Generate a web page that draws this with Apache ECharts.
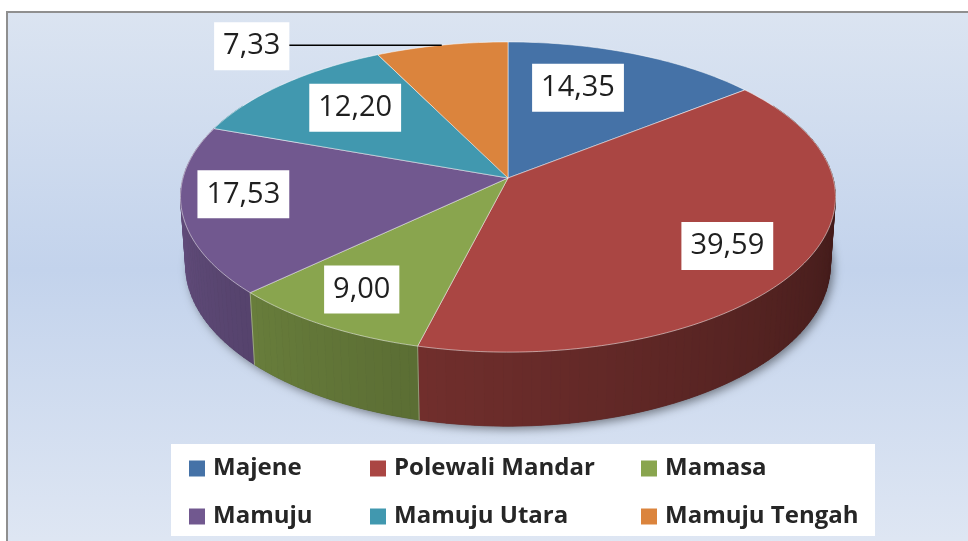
<!DOCTYPE html>
<html>
<head>
<meta charset="utf-8">
<script src="https://cdn.jsdelivr.net/npm/echarts@6/dist/echarts.min.js"></script>
<style>
html,body{margin:0;padding:0;background:#ffffff;}
#c{width:968px;height:541px;}
</style>
</head>
<body>
<div id="c"></div>
<script>
// ---- data ----
const categories = ['Majene', 'Polewali Mandar', 'Mamasa', 'Mamuju', 'Mamuju Utara', 'Mamuju Tengah'];
const values = [14.35, 39.59, 9.00, 17.53, 12.20, 7.33];

// ---- styles ----
const colors = ['#4572A7', '#AA4643', '#89A54E', '#71588F', '#4198AF', '#DB843D'];
const view = { cx: 508, cy: 178, S: 325, sinA: 0.47, K: 0.139, H: 0.24 };
view.cosA = Math.sqrt(1 - view.sinA * view.sinA);
const labelRadius = 0.7;
const labelOffsets = [[-22, -1], [19, 7], [-22, 12], [-38, -6], [8, -3], [0, 0]];
const outsideLabel = { 5: -190 };
const labelFont = { fontFamily: 'Open Sans', fontSize: 29 };

function proj(deg, r, z) {
  const t = deg * Math.PI / 180;
  const X = r * Math.sin(t), Y = r * Math.cos(t), Z = z * view.H;
  const yc = Y * view.sinA + Z * view.cosA;
  const zc = 1 + view.K * (Y * view.cosA - Z * view.sinA);
  return [view.cx + view.S * X / zc, view.cy - view.S * yc / zc];
}
function shade(hex, f) {
  const n = parseInt(hex.slice(1), 16);
  const r = Math.round(((n >> 16) & 255) * f), g = Math.round(((n >> 8) & 255) * f), b = Math.round((n & 255) * f);
  return 'rgb(' + r + ',' + g + ',' + b + ')';
}
function wallFactor(deg) {
  return Math.max(0.36, Math.min(0.88, 0.42 + (deg - 110) * 0.0029));
}
function fmt(v) { return v.toFixed(2).replace('.', ','); }

function renderItem(params, api) {
  const i = params.seriesIndex;
  const v = api.value(0);
  const total = values.reduce((a, b) => a + b, 0);
  let start = 0;
  for (let k = 0; k < i; k++) start += values[k];
  const a0 = start / total * 360, a1 = (start + v) / total * 360;
  const children = [];
  if (i === 0) {
    const sh = [];
    for (let t = 0; t <= 360; t += 3) sh.push(proj(t, 1, -1));
    children.push({ type: 'polygon', shape: { points: sh }, z2: -100,
      style: { fill: '#3b3b45', shadowBlur: 10, shadowColor: 'rgba(0,0,0,0.45)', shadowOffsetX: 3, shadowOffsetY: 3 } });
  }
  // outer wall
  const w0 = Math.max(a0, 60), w1 = Math.min(a1, 300);
  if (w1 > w0) {
    const n = Math.ceil((w1 - w0) / 1.5);
    for (let k = 0; k < n; k++) {
      const t0 = w0 + (w1 - w0) * k / n, t1 = w0 + (w1 - w0) * (k + 1) / n;
      const tm = (t0 + t1) / 2;
      const c = shade(colors[i], wallFactor(tm));
      children.push({ type: 'polygon', z2: 200 + Math.round(-Math.cos(tm * Math.PI / 180) * 100),
        shape: { points: [proj(t0, 1, 0), proj(t1, 1, 0), proj(t1, 1, -1), proj(t0, 1, -1)] },
        style: { fill: c, stroke: c, lineWidth: 0.8 } });
    }
    if (a0 >= 90 && a0 <= 270) {
      children.push({ type: 'line', z2: 400,
        shape: { x1: proj(a0, 1, 0)[0], y1: proj(a0, 1, 0)[1], x2: proj(a0, 1, -1)[0], y2: proj(a0, 1, -1)[1] },
        style: { stroke: 'rgba(255,255,255,0.35)', lineWidth: 1 } });
    }
  }
  // top face
  const pts = [proj(0, 0, 0)];
  const m = Math.max(2, Math.ceil(a1 - a0));
  for (let k = 0; k <= m; k++) pts.push(proj(a0 + (a1 - a0) * k / m, 1, 0));
  children.push({ type: 'polygon', z2: 1000, shape: { points: pts },
    style: { fill: colors[i], stroke: 'rgba(255,255,255,0.5)', lineWidth: 1 } });
  // label
  const mid = (a0 + a1) / 2;
  let lx, ly;
  if (outsideLabel[i] !== undefined) {
    const rim = proj(mid, 1, 0);
    lx = rim[0] + outsideLabel[i]; ly = rim[1] + 1;
    children.push({ type: 'line', z2: 1500,
      shape: { x1: rim[0], y1: rim[1], x2: lx, y2: rim[1] },
      style: { stroke: '#000', lineWidth: 1.5 } });
  } else {
    const p = proj(mid, labelRadius, 0);
    lx = p[0] + labelOffsets[i][0]; ly = p[1] + labelOffsets[i][1];
  }
  children.push({ type: 'text', z2: 2000,
    style: { text: fmt(v), x: lx, y: ly, align: 'center', verticalAlign: 'middle',
      fill: '#1f1f1f', fontFamily: labelFont.fontFamily, fontSize: labelFont.fontSize,
      backgroundColor: '#ffffff', padding: [10, 9, 9, 9] } });
  return { type: 'group', children: children };
}

const legendLefts = [189, 370, 641];
const chart = echarts.init(document.getElementById('c'));
chart.setOption({
  animation: false,
  graphic: [
    { type: 'rect', z: -10, silent: true, shape: { x: 7, y: 12, width: 980, height: 560 },
      style: { fill: new echarts.graphic.LinearGradient(0, 0, 0, 1, [
        { offset: 0, color: '#DBE4F1' }, { offset: 0.46, color: '#C3D3EC' },
        { offset: 0.94, color: '#DEE6F3' }, { offset: 1, color: '#E0E7F4' }]),
        stroke: '#8f8f8f', lineWidth: 2 } },
    { type: 'rect', z: -5, silent: true, shape: { x: 171, y: 444, width: 704, height: 92 },
      style: { fill: '#ffffff' } }
  ],
  legend: [0, 1, 2].map(col => ({
    orient: 'vertical', left: legendLefts[col], top: 456.5, padding: 0, itemGap: 24,
    itemWidth: 16, itemHeight: 16, icon: 'rect', selectedMode: false,
    data: [categories[col], categories[col + 3]],
    textStyle: { fontFamily: 'Open Sans', fontWeight: 'bold', fontSize: 24, color: '#262626',
      lineHeight: 24, padding: [0, 0, 0, 3] }
  })),
  series: categories.map((name, i) => ({
    type: 'custom', name: name, coordinateSystem: 'none', silent: true,
    itemStyle: { color: colors[i] },
    data: [[values[i]]],
    renderItem: renderItem
  }))
});
</script>
</body>
</html>
